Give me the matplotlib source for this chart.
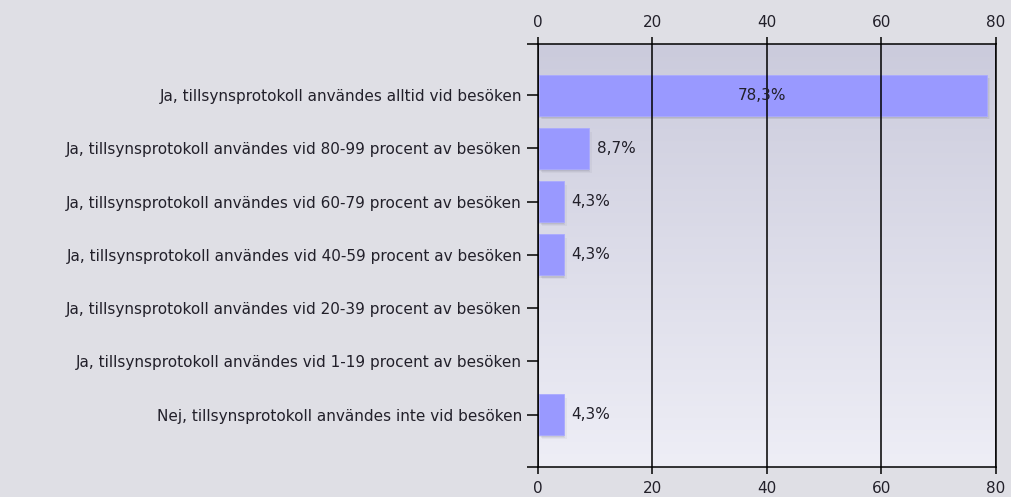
## Horizontal bar chart: tillsynsprotokoll vid besök
import numpy as np
import matplotlib
matplotlib.use("Agg")
import matplotlib.pyplot as plt
from matplotlib.colors import LinearSegmentedColormap
from matplotlib.ticker import FixedLocator

## -----------------------
## Data
categories = [
    "Ja, tillsynsprotokoll användes alltid vid besöken",
    "Ja, tillsynsprotokoll användes vid 80-99 procent av besöken",
    "Ja, tillsynsprotokoll användes vid 60-79 procent av besöken",
    "Ja, tillsynsprotokoll användes vid 40-59 procent av besöken",
    "Ja, tillsynsprotokoll användes vid 20-39 procent av besöken",
    "Ja, tillsynsprotokoll användes vid 1-19 procent av besöken",
    "Nej, tillsynsprotokoll användes inte vid besöken",
]
values = [78.3, 8.7, 4.3, 4.3, 0, 0, 4.3]
x_ticks = [0, 20, 40, 60, 80]

## -----------------------
## Figure
txt_col = "#22202a"
bar_col = "#9999ff"
fs = 11
lw = 1.1
fig = plt.figure(figsize=(10.11, 4.97), dpi=100, facecolor="#dfdfe5")
ax = fig.add_axes([0.5321, 0.0604, 0.4530, 0.8511])

y = np.arange(len(categories))
ylo, yhi = -0.96, len(categories) - 1 + 0.98

## gradient background of plot area
grad = LinearSegmentedColormap.from_list("bg", ["#cbcbdc", "#eeeef6"])
ax.imshow(np.linspace(0, 1, 256).reshape(-1, 1), cmap=grad, aspect="auto",
          extent=[0, 80, yhi, ylo], zorder=0)

## bars with a soft shadow
h = 0.77
for yi, v in zip(y, values):
    if v <= 0:
        continue
    for k, a in enumerate([0.10, 0.08, 0.06]):
        ax.barh(yi + 0.04 + 0.015 * k, v, height=h, left=0.2 + 0.25 * k,
                color="#555566", alpha=a, zorder=1.5, linewidth=0)
    ax.barh(yi, v, height=h, left=0.2, color=bar_col, zorder=2,
            edgecolor="#aaaaff", linewidth=0.6)

## value labels
for yi, v in zip(y, values):
    if v <= 0:
        continue
    lbl = f"{v:.1f}%".replace(".", ",")
    if v > 40:
        ax.text(v / 2, yi, lbl, ha="center", va="center", fontsize=fs,
                color=txt_col, zorder=3)
    else:
        ax.text(v + 1.6, yi, lbl, ha="left", va="center", fontsize=fs,
                color=txt_col, zorder=3)

## axes
ax.set_xlim(0, 80)
ax.set_ylim(yhi, ylo)
ax.set_xticks(x_ticks)
ax.set_yticks(y)
ax.set_yticklabels(categories)
ax.yaxis.set_minor_locator(FixedLocator([ylo, yhi]))
ax.tick_params(axis="y", which="both", length=8, width=lw, color="black",
               labelsize=fs, labelcolor=txt_col, pad=3.5)
ax.tick_params(axis="x", which="both", length=5, width=lw, color="black",
               labelsize=fs, labelcolor=txt_col, top=True, labeltop=True,
               bottom=True, labelbottom=True, pad=5.4)
for s in ax.spines.values():
    s.set_color("black")
    s.set_linewidth(lw)
    s.set_zorder(4)
ax.xaxis.grid(True, color="black", linewidth=lw, zorder=0.5)
ax.set_axisbelow(False)
ax.grid(False, axis="y")
for gl in ax.get_xgridlines():
    gl.set_zorder(0.5)

fig.savefig("out.png", dpi=100, facecolor=fig.get_facecolor())
